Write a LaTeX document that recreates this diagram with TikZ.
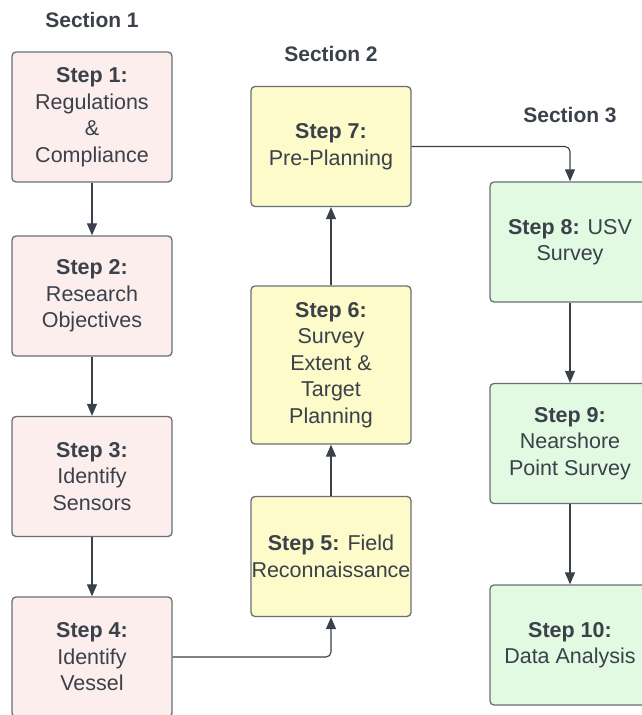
\documentclass[tikz,border=0pt]{standalone}
\usepackage{fontspec}
\setmainfont{Liberation Sans}
\usetikzlibrary{arrows.meta}
\definecolor{txt}{HTML}{3A414A}
\definecolor{bordc}{HTML}{6A6E75}
\definecolor{pinkf}{HTML}{FDEEEE}
\definecolor{yelf}{HTML}{FCFBC9}
\definecolor{grnf}{HTML}{E2F9E2}
\definecolor{arr}{HTML}{3A414A}
\begin{document}
\begin{tikzpicture}[x=1pt,y=-1pt,
  box/.style={draw=bordc, line width=1.3pt, rounded corners=4pt, minimum width=160pt,
    minimum height=120pt, align=center, text=txt, inner sep=0pt,
    font=\fontsize{21.5}{26.5}\selectfont},
  pinkbox/.style={box, fill=pinkf},
  yelbox/.style={box, fill=yelf},
  grnbox/.style={box, fill=grnf},
  sect/.style={text=txt, font=\fontsize{21}{24}\selectfont\bfseries},
  conn/.style={draw=arr, line width=1.1pt, -{Triangle[length=12pt,width=10pt]}, rounded corners=5pt}]
\useasboundingbox (0,0) rectangle (641,715);
\node[sect] (s1) at (92,20) {Section 1};
\node[sect] (s2) at (331,54) {Section 2};
\node[sect] (s3) at (570,115) {Section 3};
\node[pinkbox, minimum height=130pt] (n1) at (92,117) {\textbf{Step 1:}\\Regulations\\\&\\Compliance};
\node[pinkbox] (n2) at (92,296) {\textbf{Step 2:}\\Research\\Objectives};
\node[pinkbox] (n3) at (92,476.5) {\textbf{Step 3:}\\Identify\\Sensors};
\node[pinkbox] (n4) at (92,657) {\textbf{Step 4:}\\Identify\\Vessel};
\node[yelbox] (n5) at (331,556.5) {\textbf{Step 5:} Field\\Reconnaissance};
\node[yelbox, minimum height=158pt] (n6) at (331,365) {\textbf{Step 6:}\\Survey\\Extent \&\\Target\\Planning};
\node[yelbox] (n7) at (331,146.5) {\textbf{Step 7:}\\Pre-Planning};
\node[grnbox] (n8) at (570,242) {\textbf{Step 8:} USV\\Survey};
\node[grnbox] (n9) at (570,443.5) {\textbf{Step 9:}\\Nearshore\\Point Survey};
\node[grnbox] (n10) at (570,645) {\textbf{Step 10:}\\Data Analysis};
\draw[conn] (n1) -- (n2);
\draw[conn] (n2) -- (n3);
\draw[conn] (n3) -- (n4);
\draw[conn] (n4.east) -| (n5.south);
\draw[conn] (n5) -- (n6);
\draw[conn] (n6) -- (n7);
\draw[conn] (n7.east) -| (n8.north);
\draw[conn] (n8) -- (n9);
\draw[conn] (n9) -- (n10);
\end{tikzpicture}
\end{document}
